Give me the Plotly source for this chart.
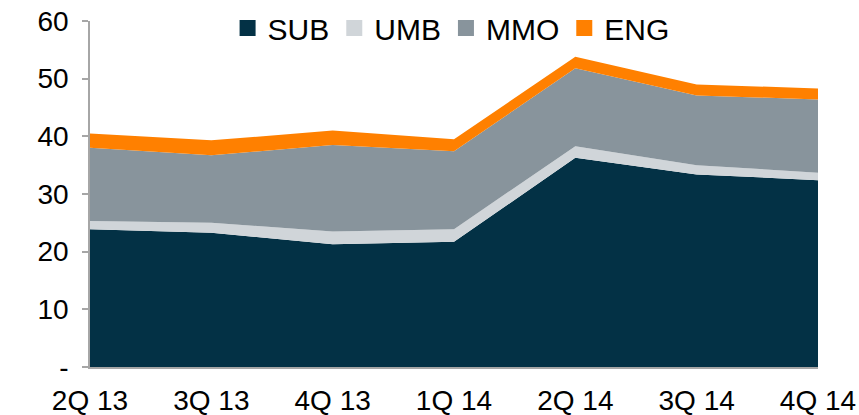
import plotly.graph_objects as go

quarters = ["2Q 13", "3Q 13", "4Q 13", "1Q 14", "2Q 14", "3Q 14", "4Q 14"]
sub = [23.9, 23.3, 21.3, 21.7, 36.3, 33.4, 32.4]
umb = [1.4, 1.7, 2.2, 2.2, 2.0, 1.6, 1.3]
mmo = [12.7, 11.7, 15.0, 13.5, 13.5, 12.1, 12.7]
eng = [2.5, 2.6, 2.5, 2.1, 2.0, 1.9, 1.9]

y_ticks = [0, 10, 20, 30, 40, 50, 60]
y_tick_text = ["-", "10", "20", "30", "40", "50", "60"]

series = [
    ("SUB", sub, "#033145"),
    ("UMB", umb, "#d0d5d9"),
    ("MMO", mmo, "#88949c"),
    ("ENG", eng, "#ff8000"),
]

fig = go.Figure()
for name, vals, color in series:
    fig.add_trace(go.Scatter(
        x=quarters, y=vals, name=name, stackgroup="one",
        mode="lines", line=dict(width=0, color=color),
        fillcolor=color, showlegend=False, hoverinfo="x+y+name",
    ))

# square legend keys
for name, vals, color in series:
    fig.add_trace(go.Scatter(
        x=[None], y=[None], name=name, mode="markers",
        marker=dict(symbol="square", size=16, color=color),
        showlegend=True,
    ))

font = "Liberation Sans, Arial, sans-serif"
fig.update_layout(
    width=859, height=415,
    margin=dict(l=90, r=41, t=21, b=48, autoexpand=False),
    paper_bgcolor="white", plot_bgcolor="white",
    font=dict(family=font, size=28, color="#000000"),
    legend=dict(
        orientation="h", x=0.496, xanchor="center",
        yref="container", y=0.995, yanchor="top",
        bgcolor="rgba(0,0,0,0)", font=dict(size=30),
        itemwidth=30, tracegroupgap=0, traceorder="normal",
    ),
    xaxis=dict(
        type="category", range=[0, 6], showgrid=False, zeroline=False,
        showline=True, linecolor="#a6a6a6", linewidth=1.5,
        ticks="", tickfont=dict(size=28), automargin=False,
        ticklabelstandoff=8,
    ),
    yaxis=dict(
        range=[0, 60], tickvals=y_ticks, ticktext=y_tick_text,
        showgrid=False, zeroline=False, showline=True,
        linecolor="#a6a6a6", linewidth=1.5, ticks="outside", ticklen=6,
        tickcolor="#a6a6a6", tickwidth=1.5, tickfont=dict(size=28),
        automargin=False, ticklabelstandoff=8,
    ),
)

fig.write_html("out.html")
